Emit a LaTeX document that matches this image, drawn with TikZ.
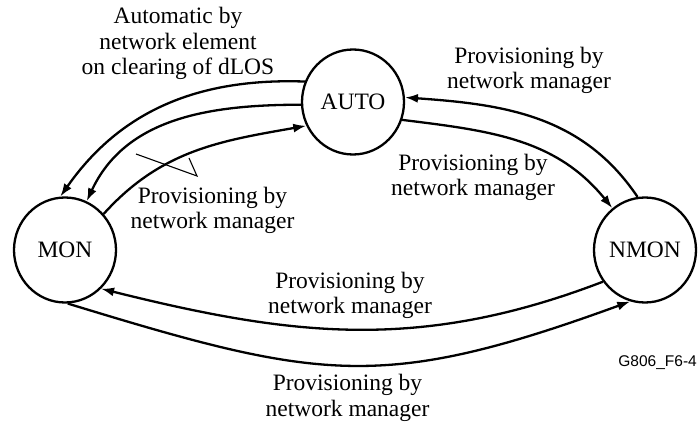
\documentclass[tikz,border=0pt]{standalone}
\usepackage{fontspec}
\setmainfont{Liberation Serif}
\newfontfamily\figsans{Liberation Sans}
\usetikzlibrary{arrows.meta,shapes.geometric}
\begin{document}
\begin{tikzpicture}[x=1pt,y=1pt,
  state/.style={ellipse,draw,line width=2.3pt,minimum width=102pt,minimum height=105pt,inner sep=0pt,font=\fontsize{23.5}{25.5}\selectfont},
  lbl/.style={align=center,font=\fontsize{23.5}{25.5}\selectfont,inner sep=0pt},
  trans/.style={line width=2.3pt,-{Latex[length=13pt,width=9pt]}},
  leader/.style={line width=1.1pt},
  ]
\useasboundingbox (0,0) rectangle (698,423);
\node[state] (auto) at (353,321) {AUTO};
\node[state] (mon) at (65,173) {MON};
\node[state] (nmon) at (645,173) {NMON};

\node[lbl] (l1) at (178,379.5) {Automatic by\\network element\\on clearing of dLOS};
\node[lbl] (l2) at (529,352.5) {Provisioning by\\network manager};
\node[lbl] (l3) at (473,245.5) {Provisioning by\\network manager};
\node[lbl] (l4) at (212.5,212.5) {Provisioning by\\network manager};
\node[lbl] (l5) at (350,127.5) {Provisioning by\\network manager};
\node[lbl] (l6) at (347.5,25) {Provisioning by\\network manager};
\node[anchor=east,inner sep=0pt,font=\figsans\fontsize{15.5}{17}\selectfont] (fig) at (697,60) {G806\_F6-4};

\draw[trans] (auto.157) to[out=178,in=55] (mon.95);
\draw[trans] (auto.183) to[out=180,in=65] (mon.66);
\draw[trans] (mon.43) to[out=48,in=190] (auto.207);
\draw[trans] (auto.340) to[out=-7,in=129] (nmon.128);
\draw[trans] (nmon.98) to[out=124,in=356] (auto.5);
\draw[trans] (nmon.217) to[out=201,in=346] (mon.313);
\draw[trans] (mon.273) to[out=-17,in=200,looseness=1.2] (nmon.254);

\coordinate (c1) at (136,269);
\coordinate (c2) at (197,247);
\coordinate (c3) at (189,265);
\draw[leader] (c1) -- (c2) -- (c3);
\end{tikzpicture}
\end{document}
